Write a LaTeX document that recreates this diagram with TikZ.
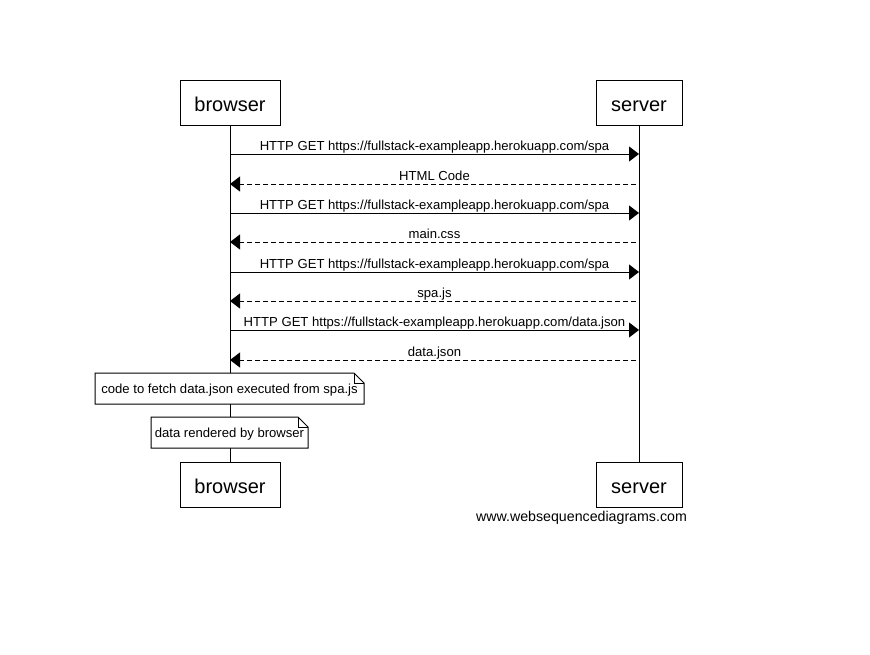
\documentclass[tikz,border=0pt]{standalone}
\usepackage{fontspec}
\setmainfont{Liberation Sans}
\usetikzlibrary{arrows.meta}
\begin{document}
\begin{tikzpicture}[x=1pt,y=-1pt,
  actor/.style={draw=black,line width=1pt,fill=white,minimum width=100pt,minimum height=45pt,inner sep=0pt,text height=18pt,text depth=1pt,font=\fontsize{20}{24}\selectfont},
  life/.style={line width=1pt},
  msg/.style={line width=1pt,-{Triangle[length=10pt,width=15pt]}},
  reply/.style={msg,dash pattern=on 5pt off 3pt},
  lbl/.style={inner sep=0pt,anchor=base,font=\fontsize{13.1}{16}\selectfont},
  notetext/.style={inner sep=0pt,anchor=base,font=\fontsize{13.1}{16}\selectfont},
  notebox/.style={draw=black,line width=1pt,fill=white}
]
\path[use as bounding box,fill=white] (0,0) rectangle (870,654);

% actors
\node[actor] (bt) at (230,102.5) {browser};
\node[actor,minimum width=86pt] (st) at (639,102.5) {server};
\node[actor] (bb) at (230,484.5) {browser};
\node[actor,minimum width=86pt] (sb) at (639,484.5) {server};

% lifelines
\draw[life] (bt.south) -- (bb.north);
\draw[life] (st.south) -- (sb.north);

% message coordinates
\foreach \i/\y in {1/154,2/184,3/213,4/242,5/272,6/301,7/330,8/360}{
  \coordinate (b\i) at (230,\y);
  \coordinate (s\i) at (639,\y);
  \coordinate (r\i) at (636,\y);
}

\draw[msg] (b1) -- (s1);
\node[lbl] (l1) at (434.5,150) {HTTP GET https://fullstack-exampleapp.herokuapp.com/spa};
\draw[reply] (r2) -- (b2);
\node[lbl] (l2) at (434.5,180) {HTML Code};
\draw[msg] (b3) -- (s3);
\node[lbl] (l3) at (434.5,209) {HTTP GET https://fullstack-exampleapp.herokuapp.com/spa};
\draw[reply] (r4) -- (b4);
\node[lbl] (l4) at (434.5,238) {main.css};
\draw[msg] (b5) -- (s5);
\node[lbl] (l5) at (434.5,268) {HTTP GET https://fullstack-exampleapp.herokuapp.com/spa};
\draw[reply] (r6) -- (b6);
\node[lbl] (l6) at (434.5,297) {spa.js};
\draw[msg] (b7) -- (s7);
\node[lbl] (l7) at (434.5,326) {HTTP GET https://fullstack-exampleapp.herokuapp.com/data.json};
\draw[reply] (r8) -- (b8);
\node[lbl] (l8) at (434.5,356) {data.json};

% notes
\draw[notebox] (95,373) -- (354,373) -- (364,383) -- (364,404) -- (95,404) -- cycle;
\draw[line width=1pt] (354,373) -- (354,383) -- (364,383);
\node[notetext] (n1) at (229.5,393) {code to fetch data.json executed from spa.js};

\draw[notebox] (151,417) -- (298,417) -- (308,427) -- (308,448) -- (151,448) -- cycle;
\draw[line width=1pt] (298,417) -- (298,427) -- (308,427);
\node[notetext] (n2) at (229.5,437) {data rendered by browser};

% footer
\node[inner sep=0pt,anchor=base,font=\fontsize{14.2}{17}\selectfont] (foot) at (581.5,521) {www.websequencediagrams.com};
\end{tikzpicture}
\end{document}
